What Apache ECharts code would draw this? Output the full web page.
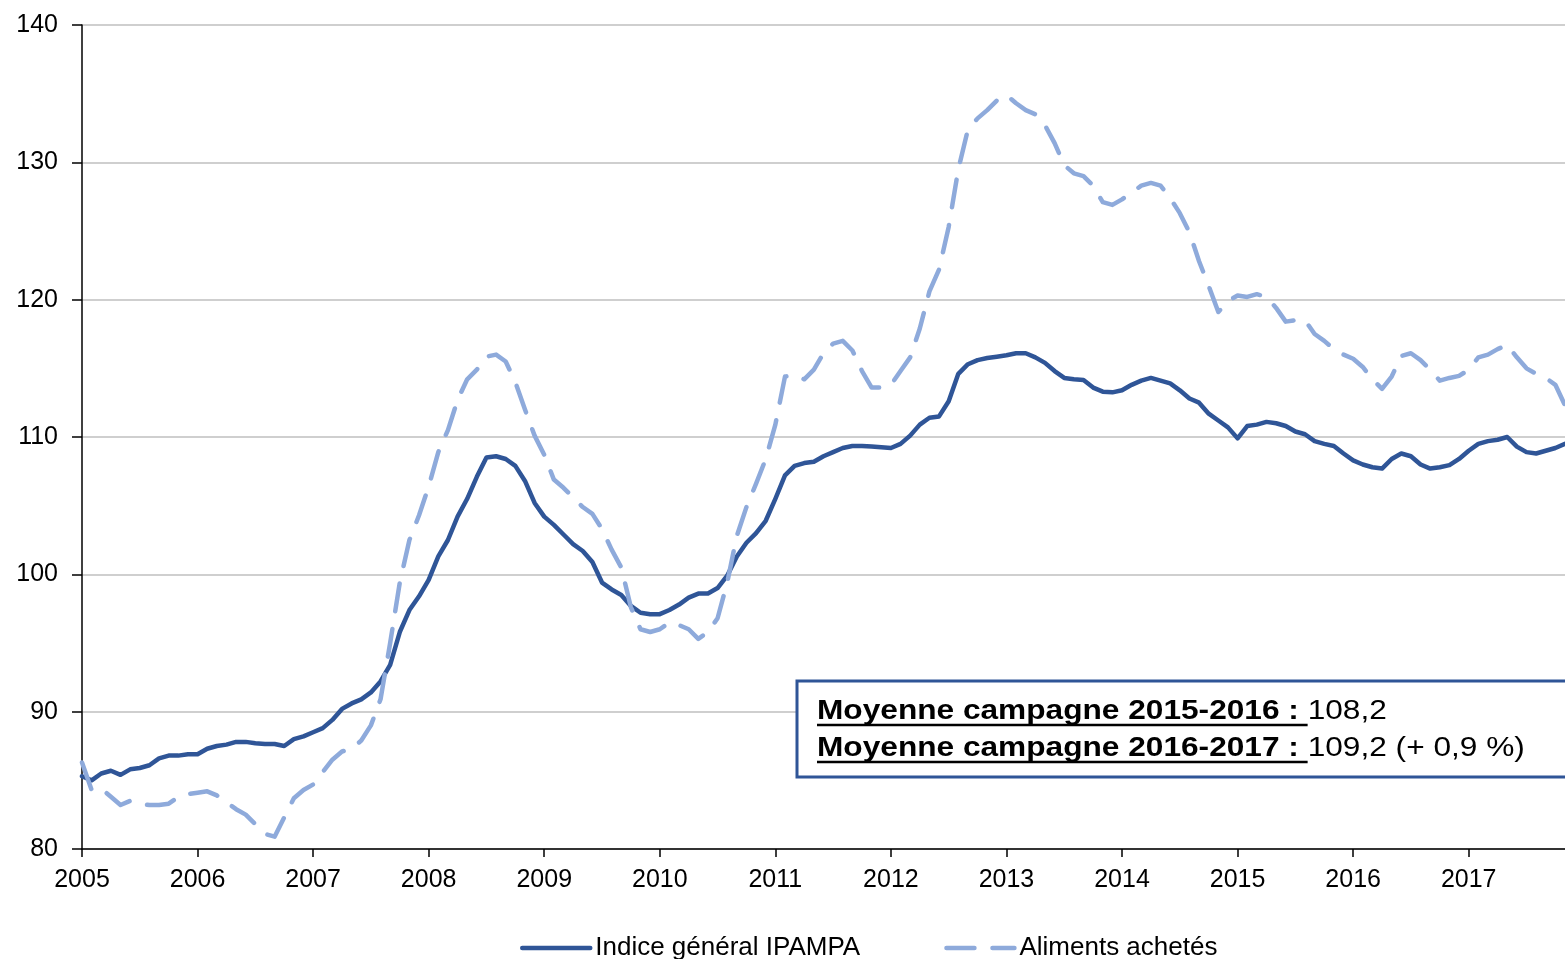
<!DOCTYPE html>
<html>
<head>
<meta charset="utf-8">
<script src="https://cdn.jsdelivr.net/npm/echarts@6/dist/echarts.min.js"></script>
<style>
    html, body { margin: 0; padding: 0; background: #fff; }
    #chart { width: 1565px; height: 959px; }
</style>
</head>
<body>
<div id="chart"></div>
<script>
(function(){
    let years = ['2005', '2006', '2007', '2008', '2009', '2010', '2011', '2012', '2013', '2014', '2015', '2016', '2017'];
    let lastYearMonths = 11;      // data runs Jan 2005 -> Nov 2017

    let yTicks = [80, 90, 100, 110, 120, 130, 140];

    // Indice général IPAMPA (monthly)
    let ipampa = [
        85.3, 85.0, 85.5, 85.7, 85.4, 85.8, 85.9, 86.1, 86.6, 86.8, 86.8, 86.9,
        86.9, 87.3, 87.5, 87.6, 87.8, 87.8, 87.7, 87.65, 87.65, 87.5, 88.0, 88.2,
        88.5, 88.8, 89.4, 90.2, 90.6, 90.9, 91.4, 92.2, 93.4, 95.8, 97.4, 98.4,
        99.6, 101.3, 102.5, 104.2, 105.5, 107.1, 108.5, 108.6, 108.4, 107.9, 106.8, 105.2,
        104.2, 103.6, 102.9, 102.2, 101.7, 100.9, 99.4, 98.9, 98.5, 97.7, 97.2, 97.1,
        97.1, 97.4, 97.8, 98.3, 98.6, 98.6, 99.0, 99.9, 101.3, 102.3, 103.0, 103.9,
        105.5, 107.2, 107.9, 108.1, 108.2, 108.6, 108.9, 109.2, 109.35, 109.35, 109.3, 109.25,
        109.2, 109.5, 110.1, 110.9, 111.4, 111.5, 112.6, 114.6, 115.3, 115.6, 115.75, 115.85,
        115.95, 116.1, 116.1, 115.8, 115.4, 114.8, 114.3, 114.2, 114.15, 113.6, 113.3, 113.25,
        113.4, 113.8, 114.1, 114.3, 114.1, 113.9, 113.4, 112.8, 112.5, 111.7, 111.2, 110.7,
        109.9, 110.8, 110.9, 111.1, 111.0, 110.8, 110.4, 110.2, 109.7, 109.5, 109.35, 108.8,
        108.3, 108.0, 107.8, 107.7, 108.4, 108.8, 108.6, 108.0, 107.7, 107.8, 107.95, 108.4,
        109.0, 109.5, 109.7, 109.8, 110.0, 109.3, 108.9, 108.8, 109.0, 109.2, 109.5
    ];

    // Aliments achetés (monthly)
    let aliments = [
        86.3, 84.3, 84.4, 83.8, 83.2, 83.5, 83.3, 83.2, 83.2, 83.3, 83.8, 84.0,
        84.1, 84.2, 83.9, 83.4, 82.9, 82.5, 81.8, 81.1, 80.9, 82.3, 83.7, 84.3,
        84.7, 85.6, 86.5, 87.1, 87.3, 87.9, 89.0, 90.9, 95.0, 99.4, 102.5, 104.3,
        106.4, 108.9, 110.5, 112.7, 114.2, 114.9, 115.85, 116.0, 115.5, 114.0, 112.0, 110.1,
        108.7, 106.9, 106.3, 105.6, 104.9, 104.4, 103.3, 101.8, 100.5, 97.6, 96.0, 95.8,
        96.0, 96.5, 96.3, 96.0, 95.3, 95.8, 96.8, 99.4, 102.8, 104.9, 106.6, 108.4,
        110.9, 114.4, 114.5, 114.2, 114.9, 116.1, 116.8, 117.0, 116.3, 114.8, 113.6, 113.6,
        113.8, 114.8, 115.8, 117.9, 120.6, 122.2, 125.3, 129.5, 132.4, 133.2, 133.8, 134.5,
        134.9, 134.3, 133.8, 133.5, 132.7, 131.4, 129.8, 129.2, 129.0, 128.3, 127.1, 126.9,
        127.3, 127.8, 128.3, 128.5, 128.3, 127.4, 126.3, 124.9, 122.8, 121.0, 119.1, 119.9,
        120.3, 120.2, 120.4, 120.2, 119.4, 118.4, 118.5, 118.5, 117.5, 117.0, 116.4, 116.0,
        115.7, 115.1, 114.2, 113.5, 114.4, 115.9, 116.1, 115.6, 114.9, 114.1, 114.3, 114.45,
        114.9, 115.8, 116.0, 116.4, 116.7, 115.8, 115.0, 114.6, 114.3, 113.8, 112.3
    ];

    let seriesNames = ['Indice général IPAMPA', 'Aliments achetés'];
    let noteBold = ['Moyenne campagne 2015-2016 : ', 'Moyenne campagne 2016-2017 : '];
    let noteValue = ['108,2', '109,2 (+ 0,9 %)'];

    let months = [];
    years.forEach((y, i) => {
        let n = (i === years.length - 1) ? lastYearMonths : 12;
        for (let m = 1; m <= n; m++){
            months.push(y + '-' + (m < 10 ? '0' + m : m));
        }
    });

    let FONT = '"Liberation Sans", Arial, sans-serif';
    let DARK = '#2F5597';
    let LIGHT = '#8EAADB';

    let isJanuary = (idx) => idx % 12 === 0;

    // note box: text is a bit wide in the original, so the group is stretched on x
    let ctx = document.createElement('canvas').getContext('2d');
    ctx.font = 'bold 28px "Liberation Sans"';
    let noteY = [711, 748];
    let noteChildren = [];
    noteBold.forEach((txt, i) => {
        let w = ctx.measureText(txt).width;
        noteChildren.push({
            type: 'text', z: 110,
            style: { x: 0, y: noteY[i], text: txt, font: 'bold 28px ' + FONT, fill: '#000', verticalAlign: 'middle' }
        });
        noteChildren.push({
            type: 'text', z: 110,
            style: { x: w, y: noteY[i], text: noteValue[i], font: '28px ' + FONT, fill: '#000', verticalAlign: 'middle' }
        });
        noteChildren.push({
            type: 'line', z: 110,
            shape: { x1: 0, y1: noteY[i] + 14, x2: w, y2: noteY[i] + 14 },
            style: { stroke: '#000', lineWidth: 2.5 }
        });
    });
    let graphics = [
        {
            type: 'rect',
            shape: { x: 797, y: 681, width: 800, height: 96 },
            style: { fill: '#fff', stroke: DARK, lineWidth: 3 },
            z: 100
        },
        {
            type: 'group', x: 817, y: 0, scaleX: 1.13, z: 110,
            children: noteChildren
        }
    ];

    let chart = echarts.init(document.getElementById('chart'));
    chart.setOption({
        animation: false,
        grid: { left: 82, right: 0, top: 25, bottom: 110, containLabel: false },
        legend: {
            left: 515, top: 930,
            itemWidth: 68, itemHeight: 14, itemGap: 84,
            itemStyle: { opacity: 0 },
            lineStyle: { width: 4.5 },
            textStyle: { fontFamily: FONT, fontSize: 26, color: '#000' },
            data: seriesNames
        },
        xAxis: {
            type: 'category',
            boundaryGap: false,
            data: months,
            axisLine: { lineStyle: { color: '#000', width: 1.5 } },
            axisTick: { interval: isJanuary, length: 8, lineStyle: { color: '#000', width: 1.5 } },
            axisLabel: {
                interval: isJanuary,
                margin: 19,
                color: '#000', fontFamily: FONT, fontSize: 25,
                formatter: (v) => v.slice(0, 4)
            },
            splitLine: { show: false }
        },
        yAxis: {
            type: 'value',
            min: yTicks[0], max: yTicks[yTicks.length - 1], interval: 10,
            axisLine: { show: true, lineStyle: { color: '#000', width: 1.5 } },
            axisTick: { show: true, length: 10, lineStyle: { color: '#000', width: 1.5 } },
            axisLabel: { margin: 24, color: '#000', fontFamily: FONT, fontSize: 25 },
            splitLine: { lineStyle: { color: '#BFBFBF', width: 1.5 } }
        },
        series: [
            {
                name: seriesNames[0],
                type: 'line',
                data: ipampa,
                symbol: 'none',
                lineStyle: { color: DARK, width: 4.5, join: 'round', cap: 'round' },
                itemStyle: { color: DARK }
            },
            {
                name: seriesNames[1],
                type: 'line',
                data: aliments,
                symbol: 'none',
                lineStyle: { color: LIGHT, width: 4.5, type: [28, 18], cap: 'round', join: 'round' },
                itemStyle: { color: LIGHT }
            }
        ],
        graphic: graphics
    });
})();
</script>
</body>
</html>
